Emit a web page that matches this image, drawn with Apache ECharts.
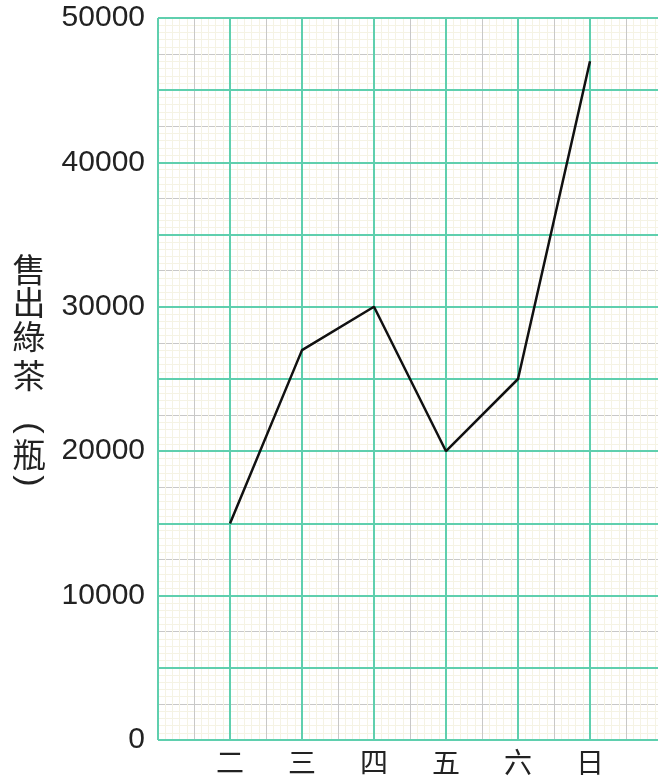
<!DOCTYPE html>
<html><head><meta charset="utf-8">
<script src="https://cdn.jsdelivr.net/npm/echarts@6/dist/echarts.min.js"></script>
<style>html,body{margin:0;padding:0;background:#fff}#c{width:658px;height:780px}</style>
</head><body><div id="c"></div>
<script>
const categories = ['二','三','四','五','六','日'];
const sales = [15000, 27000, 30000, 20000, 25000, 47000];
const yTicks = [0, 10000, 20000, 30000, 40000, 50000];
const yNameChars = ['售','出','綠','茶','(','瓶',')'];

const chart = echarts.init(document.getElementById('c'));
const green = '#5fcfae', grey = '#c8c8c8', faint = '#f5f3e4';
const numFont = '"Liberation Sans Narrow","Liberation Sans",sans-serif';
const cjk = '"Noto Sans CJK TC","Noto Sans CJK SC",sans-serif';

const nameY = [269, 302, 336, 375, 428, 454, 481];
const nameEls = yNameChars.map((ch, i) => {
  const paren = ch === '(' || ch === ')';
  return {
    type: 'text', x: 29, y: nameY[i],
    rotation: paren ? -Math.PI / 2 : 0,
    style: { text: ch, fontSize: paren ? 34 : 33, fill: '#222', fontFamily: paren ? numFont : cjk,
      align: 'center', verticalAlign: 'middle' }
  };
});

chart.setOption({
  animation: false,
  grid: { left: 158, top: 18, width: 504, height: 722, containLabel: false, outerBoundsMode: 'none' },
  xAxis: [
    { type: 'value', min: 0, max: 7, interval: 0.5, z: 1, position: 'bottom',
      axisLine: { show: false }, axisTick: { show: false }, axisLabel: { show: false },
      splitLine: { show: true, lineStyle: { color: grey, width: 1 } },
      minorTick: { show: false, splitNumber: 5 },
      minorSplitLine: { show: true, lineStyle: { color: faint, width: 1 } } },
    { type: 'value', min: 0, max: 7, interval: 1, z: 2, position: 'bottom',
      axisLine: { show: false }, axisTick: { show: false },
      axisLabel: { show: true, margin: 8, fontSize: 28, color: '#222', fontFamily: cjk,
        formatter: v => categories[v - 1] || '' },
      splitLine: { show: true, lineStyle: { color: green, width: 2 } } }
  ],
  yAxis: [
    { type: 'value', min: 0, max: 50000, interval: 2500, z: 1, position: 'left',
      axisLine: { show: false }, axisTick: { show: false }, axisLabel: { show: false },
      splitLine: { show: true, lineStyle: { color: grey, width: 1 } },
      minorTick: { show: false, splitNumber: 5 },
      minorSplitLine: { show: true, lineStyle: { color: faint, width: 1 } } },
    { type: 'value', min: 0, max: 50000, interval: 5000, z: 2, position: 'left',
      axisLine: { show: false }, axisTick: { show: false },
      axisLabel: { show: true, margin: 13, fontSize: 30, color: '#222', fontFamily: numFont,
        formatter: v => yTicks.includes(v) ? String(v) : '' },
      splitLine: { show: true, lineStyle: { color: green, width: 2 } } }
  ],
  graphic: nameEls,
  series: [{
    type: 'line', xAxisIndex: 1, yAxisIndex: 1, z: 5,
    data: sales.map((v, i) => [i + 1, v]),
    showSymbol: false, symbol: 'none',
    lineStyle: { color: '#111', width: 2.5 }
  }]
});
</script></body></html>
